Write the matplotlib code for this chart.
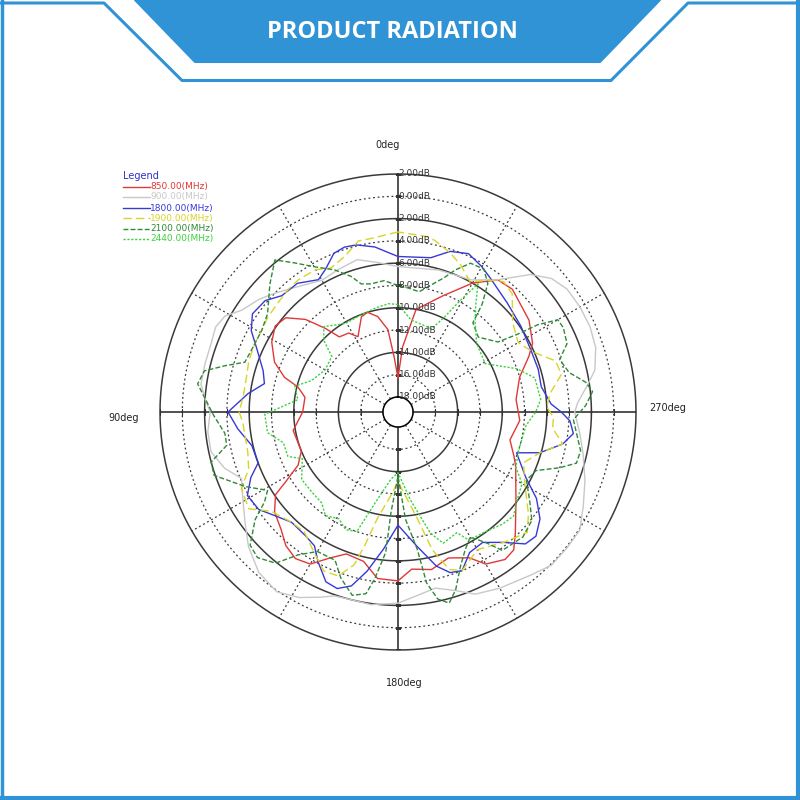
import numpy as np
import matplotlib
matplotlib.use("Agg")
import matplotlib.pyplot as plt
from matplotlib.patches import Polygon
from matplotlib.lines import Line2D

# ---- data: angle (deg, CCW from top) and gain (dB) per band ----
red_deg = [0, 4, 7, 12, 17, 21, 28, 32, 38, 41, 45, 50, 55, 61, 68, 73, 76, 81, 90,
           100, 112, 118, 122, 124, 129, 135, 140, 145, 150, 155, 160, 167, 173, 180,
           185, 192, 199, 206, 210, 216, 220, 224, 233, 245, 249, 256, 266, 276, 286,
           293, 297, 305, 317, 323, 330, 339, 350, 356, 360]
red_db = [-16.3, -14.4, -11.9, -10.6, -10.0, -10.2, -11.7, -11.0, -10.8, -9.4, -7.6, -6.2,
          -5.9, -6.4, -7.4, -8.7, -10.1, -10.9, -10.8,
          -9.8, -10.0, -9.2, -7.4, -6.1, -5.1, -4.5, -3.7, -3.3, -3.6, -4.9, -5.8, -5.6,
          -4.3, -4.2, -5.2, -4.9, -5.5, -4.8, -3.6, -3.0, -3.2, -4.2, -6.1, -7.7, -8.2,
          -9.0, -8.4, -8.7, -8.0, -6.6, -5.8, -5.0, -4.3, -4.5, -6.0, -8.2, -10.0, -13.5,
          -16.3]

gray_deg = [0, 8, 15, 23, 30, 40, 46, 51, 57, 61, 65, 70, 76, 82, 86, 90, 96, 102, 108,
            113, 120, 126, 132, 139, 146, 152, 157, 161, 166, 172, 180, 186, 192, 198,
            203, 210, 219, 225, 231, 237, 243, 250, 257, 263, 270, 273, 278, 282, 288,
            294, 300, 306, 311, 316, 323, 331, 344, 360]
gray_db = [-6.3, -5.8, -5.2, -5.5, -5.7, -4.8, -4.0, -3.3, -2.6, -1.6, -1.3, -1.5, -1.5,
           -1.5, -2.0, -2.5, -2.2, -2.2, -3.0, -4.1, -3.3, -2.4, -1.3, -0.3, 0.1, -0.5,
           -1.3, -1.9, -2.0, -1.9, -2.2, -2.8, -3.2, -2.5, -1.6, -1.1, -0.5, 0.1, 0.1,
           0.1, -0.7, -1.5, -2.3, -2.9, -3.5, -3.2, -2.2, -1.3, -0.7, -0.5, -0.5, -0.6,
           -1.1, -2.2, -4.5, -5.8, -6.1, -6.3]

blue_deg = [0, 8, 14, 18, 22, 27, 31, 38, 45, 50, 56, 61, 66, 73, 78, 83, 90, 96, 103,
            110, 114, 119, 125, 130, 136, 143, 148, 152, 157, 161, 165, 169, 174, 180,
            188, 194, 198, 202, 207, 213, 219, 224, 228, 233, 238, 243, 251, 254, 259,
            263, 267, 270, 273, 280, 287, 295, 305, 315, 325, 330, 336, 342, 348, 360]
blue_db = [-5.4, -4.4, -3.9, -3.8, -4.0, -5.0, -5.5, -4.7, -4.6, -3.8, -3.6, -4.3, -5.5,
           -6.7, -7.1, -5.8, -4.1, -4.9, -5.9, -6.0, -4.9, -3.9, -4.1, -4.9, -5.6, -5.5,
           -5.2, -4.1, -2.8, -2.6, -3.2, -4.8, -7.0, -9.2, -7.2, -5.1, -4.2, -4.0, -5.2,
           -5.4, -4.3, -2.9, -2.7, -3.4, -4.7, -6.5, -8.1, -6.1, -4.3, -3.5, -3.9, -4.7,
           -5.6, -6.3, -6.2, -6.2, -5.9, -5.5, -4.8, -4.3, -3.8, -4.2, -5.2, -5.4]

yellow_deg = [0, 9, 13, 19, 25, 30, 37, 42, 48, 54, 59, 64, 71, 77, 84, 90, 94, 105, 111,
              116, 123, 128, 136, 142, 149, 155, 160, 164, 166, 169, 175, 180, 190, 194,
              198, 202, 210, 219, 227, 232, 240, 248, 254, 259, 264, 268, 272, 277, 283,
              288, 294, 300, 308, 316, 321, 325, 331, 337, 342, 348, 351, 360]
yellow_db = [-3.2, -3.6, -3.6, -4.6, -5.1, -4.6, -4.5, -4.6, -4.8, -4.9, -5.1, -5.1, -5.2,
             -5.4, -5.4, -5.1, -5.4, -5.4, -5.0, -3.7, -3.4, -4.9, -5.6, -5.7, -4.7, -3.6,
             -3.7, -5.1, -7.0, -9.6, -11.8, -13.1, -9.8, -6.6, -4.5, -4.0, -5.1, -4.3,
             -3.5, -4.5, -6.2, -7.2, -6.1, -4.3, -5.4, -5.4, -6.0, -5.6, -4.3, -4.5, -6.1,
             -6.9, -6.3, -4.6, -4.3, -4.9, -6.0, -5.0, -4.3, -3.6, -3.4, -3.2]

dkgreen_deg = [0, 6, 12, 16, 19, 24, 30, 35, 39, 45, 53, 59, 66, 72, 75, 78, 82, 86, 91,
               97, 101, 105, 109, 116, 121, 124, 127, 132, 136, 141, 145, 150, 157, 161,
               166, 170, 172, 175, 176, 180, 184, 188, 189.5, 192, 195, 198, 202, 206,
               210, 214, 217, 225, 231, 236, 242, 247, 251, 254, 258, 263, 267.5, 272,
               276, 279, 283, 288, 292, 297, 300, 302, 303, 305, 313, 320, 322, 325, 329,
               334, 338, 341, 345, 350, 355, 360]
dkgreen_db = [-8.0, -7.5, -7.6, -7.4, -6.5, -5.4, -4.3, -3.0, -1.8, -3.1, -4.7, -5.1,
              -5.1, -4.9, -3.3, -1.6, -1.2, -2.0, -2.8, -3.7, -3.7, -2.0, -1.9, -4.1,
              -5.7, -4.9, -3.3, -1.5, -1.2, -1.9, -3.7, -4.9, -4.9, -3.6, -2.4, -2.8,
              -4.2, -6.7, -10.3, -13.6, -9.7, -6.9, -3.8, -2.2, -1.6, -2.6, -4.4, -5.6,
              -6.4, -5.2, -3.8, -3.5, -3.9, -5.1, -6.3, -5.9, -4.0, -2.7, -2.6, -3.2,
              -3.6, -2.5, -1.8, -2.3, -3.6, -4.1, -3.0, -2.7, -2.8, -4.6, -6.5, -8.4,
              -9.5, -8.9, -7.1, -5.3, -4.4, -4.5, -5.6, -6.6, -7.5, -8.4, -8.2, -8.0]

ltgreen_deg = [0, 5, 12, 19, 31, 41, 46, 50, 60, 70, 76, 83, 89, 91, 99, 105, 112, 116,
               125, 133, 140, 145, 151, 156, 161, 166, 174, 180, 188, 192, 195, 199, 206,
               209, 215, 223, 228, 234, 240, 245, 254, 264, 270, 275, 284, 290, 299, 311,
               319, 324, 328, 331, 334, 338, 352, 360]
ltgreen_db = [-9.7, -9.6, -9.8, -10.0, -10.1, -9.2, -10.1, -11.6, -11.8, -11.1, -9.8,
              -10.3, -8.3, -7.4, -7.5, -8.7, -8.7, -9.8, -8.8, -8.8, -8.7, -8.0, -8.4,
              -7.8, -8.0, -11.0, -13.3, -13.9, -11.4, -9.8, -8.1, -6.9, -7.3, -6.2, -6.1,
              -5.6, -5.4, -6.1, -6.5, -7.7, -8.0, -7.8, -7.0, -6.5, -6.7, -8.0, -10.4,
              -10.0, -8.8, -7.5, -5.8, -8.0, -9.9, -11.3, -11.0, -9.7]

series_labels = ["850.00(MHz)", "900.00(MHz)", "1800.00(MHz)", "1900.00(MHz)",
                 "2100.00(MHz)", "2440.00(MHz)"]

ring_db = [2, 0, -2, -4, -6, -8, -10, -12, -14, -16, -18]
ring_labels = ["2.00dB", "0.00dB", "2.00dB", "4.00dB", "6.00dB", "8.00dB",
               "10.00dB", "12.00dB", "14.00dB", "16.00dB", "18.00dB"]

# ---- styles ----
BLUE = "#2f93d5"
GRID = "#3a3a3a"
NARROW = ["Liberation Sans Narrow", "DejaVu Sans"]

styles = [
    dict(color="#e03838", ls="-"),              # 850
    dict(color="#c8c8c8", ls="-"),              # 900
    dict(color="#3838d8", ls="-"),              # 1800
    dict(color="#d8d428", ls=(0, (6, 3))),      # 1900
    dict(color="#2e8a36", ls=(0, (3.5, 1.6))),  # 2100
    dict(color="#3ed23e", ls=(0, (1.6, 1.2))),  # 2440
]
series = [(red_deg, red_db), (gray_deg, gray_db), (blue_deg, blue_db),
          (yellow_deg, yellow_db), (dkgreen_deg, dkgreen_db), (ltgreen_deg, ltgreen_db)]

fig = plt.figure(figsize=(8, 8), dpi=100)

# ---- header / frame drawn in pixel space ----
bg = fig.add_axes([0, 0, 1, 1])
bg.set_xlim(0, 800)
bg.set_ylim(800, 0)
bg.axis("off")
bg.add_patch(Polygon([(135, 0), (660, 0), (600, 62), (195, 62)], closed=True,
                     facecolor=BLUE, edgecolor=BLUE, lw=1.5, joinstyle="round"))
bg.plot([0, 104, 182, 611, 688, 800], [3, 3, 80.5, 80.5, 3, 3], color=BLUE, lw=2.2,
        solid_joinstyle="round")
bg.plot([1.5, 1.5], [0, 800], color=BLUE, lw=2.5)
bg.plot([798, 798], [0, 800], color=BLUE, lw=3)
bg.plot([0, 800], [798, 798], color=BLUE, lw=3)
bg.text(392, 32, "PRODUCT RADIATION", color="white", fontsize=17, fontweight="bold",
        family=["Open Sans", "DejaVu Sans"], ha="center", va="center")

# ---- polar chart ----
ax = fig.add_axes([0.2, 0.1875, 0.595, 0.595], projection="polar")
ax.set_theta_zero_location("N")
ax.set_theta_direction(1)
ax.set_rorigin(-19.35)
ax.set_rlim(-18, 2)
ax.grid(False)
ax.set_xticks([])
ax.set_yticks([])
for sp in ax.spines.values():
    sp.set_visible(False)

full = np.linspace(0, 2 * np.pi, 721)
for lvl in ring_db:
    if lvl in (2, -2, -6, -10, -14, -18):
        ax.plot(full, np.full_like(full, lvl), color=GRID, lw=1.1, zorder=1,
                clip_on=False)
    else:
        ax.plot(full, np.full_like(full, lvl), color=GRID, lw=0.9,
                ls=(0, (1.5, 2.2)), zorder=1)

for a in range(0, 360, 30):
    t = np.deg2rad(a)
    if a % 90 == 0:
        ax.plot([t, t], [-18, 2], color="#222222", lw=1.1, zorder=1)
    else:
        ax.plot([t, t], [-18, 2], color=GRID, lw=0.9, ls=(0, (1.5, 2.2)), zorder=1)

# small ticks on the cross axes
for lvl in ring_db[:-1]:
    for a in (0, 180):
        ax.plot(np.deg2rad(a), lvl, marker="_", ms=4, mew=0.8, color="#333333", zorder=2)
    for a in (90, 270):
        ax.plot(np.deg2rad(a), lvl, marker="|", ms=4, mew=0.8, color="#333333", zorder=2)

for lvl, lab in zip(ring_db, ring_labels):
    ax.annotate(lab, xy=(0, lvl), xytext=(0.5, 0), textcoords="offset points",
                ha="left", va="center", fontsize=6.5, family=NARROW, color="#333333",
                zorder=6)

for i in [1, 4, 5, 3, 2, 0]:
    d, v = series[i]
    ax.plot(np.deg2rad(d), v, lw=1.0, zorder=3 + i * 0.1, **styles[i])

# ---- direction labels ----
for txt, x, y in [("0deg", 388, 145), ("90deg", 124, 418), ("270deg", 668, 408),
                  ("180deg", 404, 683)]:
    fig.text(x / 800, 1 - y / 800, txt, ha="center", va="center", fontsize=7,
             family=NARROW, color="#222222")

# ---- legend ----
fig.text(123 / 800, 1 - 176 / 800, "Legend", ha="left", va="center", fontsize=7,
         family=NARROW, color="#3030cc")
leg_y = [187, 197, 208, 218, 229, 239]
for i, y in enumerate(leg_y):
    yy = 1 - y / 800
    fig.add_artist(Line2D([123 / 800, 150 / 800], [yy, yy], lw=1.0,
                          transform=fig.transFigure, **styles[i]))
    fig.text(150 / 800, yy, series_labels[i], ha="left", va="center", fontsize=6.5,
             family=NARROW, color=styles[i]["color"])

fig.savefig("out.png", dpi=100, facecolor="white")
